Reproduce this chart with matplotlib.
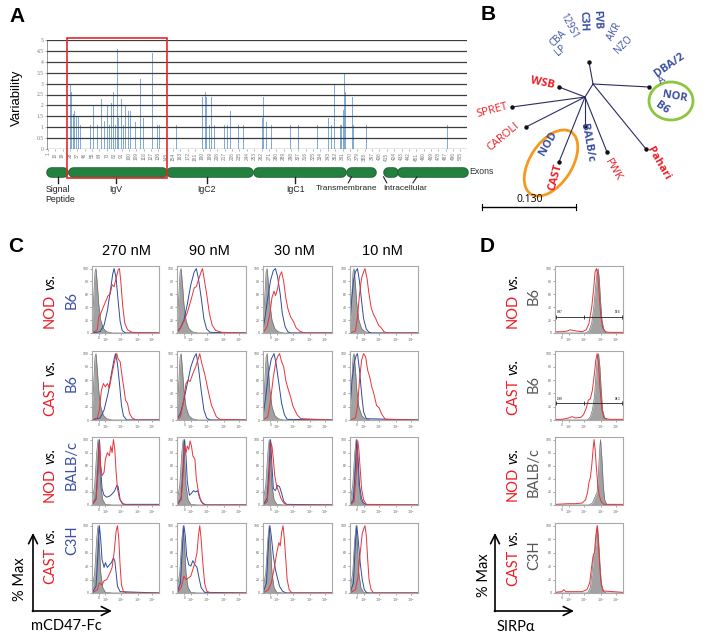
import numpy as np
import matplotlib.pyplot as plt
from matplotlib.patches import Rectangle, Ellipse

# ---------------- data ----------------
# panel A: variability per residue
var_pos = [29, 30, 32, 34, 36, 38, 41, 50, 53, 57, 62, 67, 70, 72, 74, 76, 77, 79, 81, 83,
           84, 86, 87, 91, 93, 96, 100, 102, 108, 110, 114, 118, 121, 127, 129, 132, 135, 137,
           143, 158, 190, 194, 195, 198, 201, 205, 217, 220, 224, 226, 234, 240, 248, 263, 264,
           268, 274, 276, 297, 303, 307, 330, 344, 347, 351, 358, 360, 362, 363, 365, 373, 374,
           390, 489]
var_val = [3.0, 2.6, 1.6, 1.75, 1.5, 1.5, 1.1, 1.1, 1.1, 2.0, 1.1, 2.3, 1.3, 1.4, 2.0, 1.1,
           4.15, 2.1, 2.6, 2.85, 1.1, 4.6, 1.4, 2.3, 1.1, 2.0, 1.75, 1.75, 1.25, 1.1, 3.2, 1.4,
           1.1, 2.3, 4.4, 1.4, 1.1, 1.1, 1.1, 1.1, 2.4, 2.6, 2.4, 1.1, 2.4, 1.1, 1.1, 1.1, 1.75,
           1.1, 1.1, 1.1, 2.4, 1.4, 2.4, 1.25, 1.1, 1.1, 1.1, 1.1, 1.1, 1.1, 1.4, 1.1, 3.0, 1.1,
           1.1, 1.8, 3.5, 2.6, 2.4, 1.1, 1.1, 1.1]
res_ticks = list(range(1, 506, 9))
exon_start = [0, 27, 147, 253, 366, 403, 412, 429]
exon_end = [25, 146, 251, 364, 401, 411, 428, 513]
domain_names = ['IgV', 'IgC2', 'IgC1']
domain_pos = [84, 195, 303]

# panel B: tree (node positions in figure pixels)
tree_nodes = {'a': (593, 84), 'b': (585, 97), 'top': (589, 62), 'WSB': (559, 87),
              'SPRET': (512, 107), 'CAROLI': (526, 127), 'CAST': (559, 162),
              'BALB': (585, 126), 'PWK': (607, 152), 'Pahari': (646, 149), 'DBA': (649, 87)}
tree_edges = [('a', 'top'), ('a', 'DBA'), ('a', 'Pahari'), ('a', 'b'), ('b', 'WSB'),
              ('b', 'SPRET'), ('b', 'CAROLI'), ('b', 'CAST'), ('b', 'BALB'), ('b', 'PWK')]
# label, x, y, rotation, colour key, bold, size
strain_labels = [('WSB', 542, 83, -12, 'r', True, 8), ('SPRET', 492, 110, 15, 'r', False, 8),
                 ('CAROLI', 503, 137, 40, 'r', False, 8), ('NOD', 548, 143, 60, 'b', True, 8),
                 ('CAST', 556, 177, 75, 'r', True, 8), ('BALB/c', 587, 143, -80, 'b', True, 8),
                 ('PWK', 613, 170, -60, 'r', False, 8), ('Pahari', 658, 163, -60, 'r', True, 8),
                 ('DBA/2', 670, 65, 35, 'b', True, 8), ('A', 662, 80, 35, 'b', False, 7),
                 ('NOR', 675, 97, -10, 'b', True, 8), ('B6', 662, 108, -35, 'b', True, 8),
                 ('LP', 561, 51, 40, 'b', False, 7), ('CBA', 558, 39, 45, 'b', False, 7),
                 ('129S1', 569, 26, -62, 'b', False, 7), ('C3H', 583, 21, -88, 'b', True, 7.5),
                 ('FVB', 597, 20, -88, 'b', True, 7.5), ('AKR', 614, 32, 60, 'b', False, 7),
                 ('NZO', 624, 45, 45, 'b', False, 7)]

# panel C/D: histograms (x = display fraction of axis, y = % max)
concs = ['270 nM', '90 nM', '30 nM', '10 nM']
first_strain = ['NOD', 'CAST', 'NOD', 'CAST']
second_strain = ['B6', 'B6', 'BALB/c', 'C3H']

iso_c_wide = [(0, 8), (0.02, 45), (0.045, 95), (0.06, 100), (0.08, 75), (0.1, 45), (0.13, 20),
              (0.17, 7), (0.22, 2), (0.3, 0), (1, 0)]
iso_c_narrow = [(0, 5), (0.04, 30), (0.07, 80), (0.09, 100), (0.11, 70), (0.13, 30), (0.16, 8),
                (0.2, 1), (0.3, 0), (1, 0)]

blue_nod_b6 = [
    [(0, 0), (0.12, 2), (0.18, 12), (0.23, 35), (0.28, 70), (0.31, 92), (0.33, 100), (0.36, 85),
     (0.39, 50), (0.42, 18), (0.45, 4), (0.5, 0), (1, 0)],
    [(0, 2), (0.05, 8), (0.1, 20), (0.15, 45), (0.2, 75), (0.25, 95), (0.28, 100), (0.31, 85),
     (0.35, 55), (0.39, 22), (0.43, 6), (0.48, 1), (1, 0)],
    [(0, 5), (0.03, 25), (0.07, 55), (0.11, 82), (0.15, 97), (0.18, 100), (0.21, 88), (0.25, 60),
     (0.28, 30), (0.32, 10), (0.36, 2), (0.4, 0), (1, 0)],
    [(0, 10), (0.02, 45), (0.05, 80), (0.08, 95), (0.11, 100), (0.14, 80), (0.17, 50), (0.2, 22),
     (0.24, 6), (0.28, 1), (0.32, 0), (1, 0)]]
red_nod_b6 = [
    [(0, 0), (0.08, 5), (0.1, 25), (0.13, 30), (0.16, 38), (0.2, 48), (0.24, 58), (0.27, 60),
     (0.3, 75), (0.33, 72), (0.36, 85), (0.39, 98), (0.41, 100), (0.43, 80), (0.46, 40),
     (0.49, 15), (0.53, 5), (0.6, 1), (1, 0)],
    [(0, 0), (0.05, 8), (0.1, 18), (0.15, 32), (0.2, 50), (0.25, 70), (0.28, 72), (0.31, 82),
     (0.35, 95), (0.37, 100), (0.4, 80), (0.43, 60), (0.47, 30), (0.51, 12), (0.56, 4),
     (0.65, 1), (1, 0)],
    [(0, 0), (0.06, 10), (0.1, 30), (0.13, 55), (0.16, 65), (0.18, 58), (0.21, 68), (0.24, 88),
     (0.27, 95), (0.3, 80), (0.33, 55), (0.36, 38), (0.4, 25), (0.44, 18), (0.48, 8),
     (0.53, 3), (0.6, 0), (1, 0)],
    [(0, 0), (0.08, 3), (0.11, 25), (0.14, 60), (0.17, 85), (0.2, 95), (0.22, 100), (0.25, 85),
     (0.28, 60), (0.31, 40), (0.34, 30), (0.38, 22), (0.42, 12), (0.46, 8), (0.5, 2),
     (0.55, 0), (1, 0)]]
blue_cast_b6 = [
    [(0, 0), (0.12, 3), (0.18, 15), (0.24, 40), (0.29, 70), (0.33, 92), (0.35, 100), (0.38, 85),
     (0.41, 55), (0.44, 22), (0.47, 6), (0.52, 0), (1, 0)],
    [(0, 2), (0.05, 10), (0.1, 30), (0.15, 55), (0.2, 80), (0.25, 95), (0.28, 100), (0.31, 80),
     (0.35, 45), (0.39, 15), (0.43, 3), (0.48, 0), (1, 0)],
    [(0, 5), (0.04, 35), (0.08, 70), (0.12, 92), (0.16, 100), (0.19, 85), (0.23, 55), (0.27, 25),
     (0.31, 8), (0.35, 1), (1, 0)],
    [(0, 15), (0.03, 60), (0.06, 85), (0.09, 97), (0.11, 100), (0.14, 75), (0.17, 40),
     (0.2, 12), (0.24, 2), (1, 0)]]
red_cast_b6 = [
    [(0, 0), (0.08, 3), (0.11, 15), (0.14, 45), (0.17, 55), (0.2, 50), (0.23, 55), (0.26, 48),
     (0.29, 65), (0.32, 80), (0.35, 95), (0.37, 100), (0.39, 92), (0.42, 88), (0.45, 65),
     (0.48, 45), (0.5, 30), (0.53, 25), (0.56, 10), (0.6, 3), (0.66, 0), (1, 0)],
    [(0, 0), (0.05, 5), (0.09, 25), (0.13, 55), (0.16, 60), (0.19, 58), (0.23, 70), (0.27, 80),
     (0.3, 90), (0.33, 100), (0.36, 85), (0.4, 70), (0.43, 55), (0.46, 40), (0.5, 22),
     (0.53, 15), (0.57, 5), (0.62, 1), (1, 0)],
    [(0, 0), (0.07, 5), (0.11, 30), (0.15, 65), (0.19, 90), (0.22, 97), (0.24, 100), (0.27, 88),
     (0.3, 80), (0.33, 60), (0.36, 48), (0.4, 35), (0.43, 22), (0.46, 15), (0.5, 7),
     (0.55, 2), (1, 0)],
    [(0, 0), (0.08, 3), (0.11, 20), (0.14, 60), (0.17, 90), (0.2, 100), (0.23, 95), (0.26, 75),
     (0.29, 65), (0.32, 50), (0.35, 40), (0.39, 22), (0.43, 18), (0.47, 8), (0.52, 1), (1, 0)]]
blue_nod_balbc = [
    [(0, 0), (0.06, 10), (0.09, 60), (0.11, 100), (0.13, 55), (0.15, 25), (0.18, 15), (0.22, 12),
     (0.27, 14), (0.31, 18), (0.34, 22), (0.37, 30), (0.39, 28), (0.42, 8), (0.46, 2),
     (0.5, 1), (1, 1)],
    [(0, 0), (0.06, 10), (0.09, 60), (0.11, 100), (0.13, 75), (0.15, 35), (0.18, 15), (0.21, 18),
     (0.24, 22), (0.27, 20), (0.3, 22), (0.33, 10), (0.37, 3), (0.42, 0), (1, 0)],
    [(0, 0), (0.06, 10), (0.09, 60), (0.11, 100), (0.13, 60), (0.15, 25), (0.18, 22), (0.21, 30),
     (0.24, 28), (0.27, 18), (0.3, 6), (0.34, 1), (1, 0)],
    [(0, 0), (0.05, 8), (0.08, 60), (0.1, 100), (0.12, 70), (0.14, 30), (0.17, 10), (0.2, 3),
     (0.25, 0), (1, 0)]]
red_nod_balbc = [
    [(0, 0), (0.06, 8), (0.09, 50), (0.115, 95), (0.13, 60), (0.15, 45), (0.18, 50), (0.2, 70),
     (0.23, 80), (0.26, 75), (0.28, 90), (0.3, 80), (0.32, 100), (0.34, 85), (0.36, 50),
     (0.38, 25), (0.41, 10), (0.45, 2), (0.5, 0), (1, 0)],
    [(0, 0), (0.06, 8), (0.09, 50), (0.11, 92), (0.13, 80), (0.15, 90), (0.17, 85), (0.19, 98),
     (0.21, 90), (0.23, 75), (0.26, 70), (0.28, 40), (0.31, 20), (0.35, 5), (0.4, 0), (1, 0)],
    [(0, 0), (0.06, 5), (0.09, 40), (0.115, 95), (0.13, 90), (0.15, 70), (0.17, 45), (0.2, 28),
     (0.23, 20), (0.26, 10), (0.3, 3), (0.35, 0), (1, 0)],
    [(0, 0), (0.06, 5), (0.09, 45), (0.115, 98), (0.13, 85), (0.15, 55), (0.17, 25), (0.2, 8),
     (0.24, 1), (1, 0)]]
blue_cast_c3h = [
    [(0, 0), (0.06, 10), (0.09, 60), (0.11, 100), (0.13, 80), (0.15, 50), (0.18, 38), (0.2, 45),
     (0.23, 38), (0.26, 42), (0.29, 45), (0.32, 52), (0.34, 48), (0.36, 30), (0.38, 10),
     (0.42, 2), (1, 0)],
    [(0, 0), (0.05, 15), (0.08, 70), (0.1, 100), (0.12, 85), (0.14, 55), (0.17, 42), (0.2, 40),
     (0.23, 48), (0.26, 42), (0.29, 38), (0.32, 22), (0.35, 8), (0.4, 1), (1, 0)],
    [(0, 0), (0.05, 15), (0.08, 75), (0.1, 100), (0.12, 85), (0.15, 55), (0.18, 35), (0.21, 22),
     (0.24, 10), (0.28, 3), (0.33, 0), (1, 0)],
    [(0, 0), (0.05, 15), (0.08, 75), (0.1, 100), (0.12, 80), (0.15, 45), (0.18, 20), (0.21, 5),
     (0.25, 0), (1, 0)]]
red_cast_c3h = [
    [(0, 0), (0.08, 5), (0.11, 15), (0.15, 12), (0.18, 18), (0.22, 20), (0.26, 28), (0.3, 38),
     (0.33, 60), (0.36, 92), (0.38, 100), (0.4, 80), (0.42, 40), (0.44, 12), (0.47, 2),
     (0.52, 0), (1, 0)],
    [(0, 0), (0.06, 8), (0.1, 25), (0.13, 20), (0.16, 22), (0.2, 25), (0.23, 35), (0.26, 45),
     (0.29, 60), (0.31, 85), (0.33, 100), (0.35, 80), (0.37, 50), (0.4, 15), (0.43, 3),
     (0.48, 0), (1, 0)],
    [(0, 0), (0.08, 5), (0.12, 15), (0.16, 35), (0.2, 60), (0.23, 75), (0.25, 70), (0.27, 90),
     (0.29, 100), (0.31, 80), (0.33, 50), (0.35, 20), (0.38, 5), (0.42, 0), (1, 0)],
    [(0, 0), (0.08, 5), (0.12, 25), (0.15, 60), (0.18, 88), (0.2, 95), (0.22, 100), (0.24, 85),
     (0.26, 50), (0.28, 20), (0.31, 5), (0.35, 0), (1, 0)]]

c_blue = [blue_nod_b6, blue_cast_b6, blue_nod_balbc, blue_cast_c3h]
c_red = [red_nod_b6, red_cast_b6, red_nod_balbc, red_cast_c3h]
c_iso = [iso_c_wide, iso_c_wide, iso_c_narrow, iso_c_narrow]

d_grey = [
    [(0, 0), (0.45, 0), (0.5, 3), (0.54, 15), (0.57, 40), (0.6, 75), (0.62, 95), (0.635, 100),
     (0.65, 85), (0.67, 50), (0.69, 20), (0.72, 5), (0.76, 0), (1, 0)],
    [(0, 0), (0.48, 0), (0.52, 5), (0.55, 15), (0.58, 35), (0.6, 65), (0.62, 90), (0.64, 100),
     (0.66, 80), (0.68, 45), (0.7, 15), (0.73, 3), (0.77, 0), (1, 0)],
    [(0, 0), (0.5, 0), (0.55, 3), (0.58, 10), (0.6, 15), (0.62, 20), (0.64, 50), (0.66, 90),
     (0.67, 100), (0.69, 70), (0.71, 30), (0.73, 8), (0.76, 1), (1, 0)],
    [(0, 0), (0.48, 0), (0.52, 8), (0.55, 35), (0.57, 58), (0.59, 62), (0.61, 85), (0.625, 100),
     (0.64, 80), (0.66, 45), (0.68, 15), (0.71, 3), (0.75, 0), (1, 0)]]
d_red = [
    [(0, 2), (0.1, 2), (0.18, 3), (0.22, 5), (0.27, 4), (0.32, 3), (0.4, 2), (0.46, 5), (0.5, 15),
     (0.54, 40), (0.57, 70), (0.59, 95), (0.61, 100), (0.63, 90), (0.65, 60), (0.67, 30),
     (0.7, 8), (0.74, 2), (0.8, 1), (1, 1)],
    [(0, 1), (0.1, 1), (0.2, 3), (0.25, 5), (0.3, 3), (0.38, 4), (0.42, 8), (0.46, 18),
     (0.49, 30), (0.52, 32), (0.55, 45), (0.58, 70), (0.6, 90), (0.62, 100), (0.64, 85),
     (0.66, 50), (0.69, 15), (0.72, 3), (0.8, 1), (1, 1)],
    [(0, 1), (0.2, 2), (0.3, 2), (0.4, 3), (0.45, 8), (0.48, 20), (0.5, 35), (0.52, 42),
     (0.54, 60), (0.56, 85), (0.575, 100), (0.59, 85), (0.61, 55), (0.63, 30), (0.65, 15),
     (0.68, 5), (0.72, 1), (1, 1)],
    [(0, 1), (0.1, 2), (0.13, 5), (0.16, 2), (0.25, 2), (0.4, 2), (0.47, 5), (0.51, 15),
     (0.54, 40), (0.56, 55), (0.58, 60), (0.6, 85), (0.62, 100), (0.64, 70), (0.66, 35),
     (0.68, 12), (0.71, 3), (1, 1)]]
gate_split = 0.42
gate_pct = [['0.87', '99.6'], ['1.89', '98.1']]

# ---------------- figure ----------------
W, H = 711, 639
plt.rcParams['font.family'] = ['Liberation Sans', 'DejaVu Sans']
fig = plt.figure(figsize=(W / 100, H / 100), dpi=100)

RED = '#ec1c24'
BLUE = '#3a4ea3'
CAL = ['Lato', 'DejaVu Sans']


def px_axes(x0, y0, x1, y1):
    return fig.add_axes([x0 / W, 1 - y1 / H, (x1 - x0) / W, (y1 - y0) / H])


ov = fig.add_axes([0, 0, 1, 1], zorder=10)
ov.set_xlim(0, W)
ov.set_ylim(H, 0)
ov.axis('off')

for lab, x, y in [('A', 17, 17), ('B', 488, 15), ('C', 16, 247), ('D', 487, 247)]:
    ov.text(x, y, lab, fontsize=15, fontweight='bold', ha='center', va='center')

# ---- panel A ----
axA = px_axes(47, 40, 467, 149)
axA.bar(var_pos, var_val, width=1.0, color='#82abd9', linewidth=0, zorder=2)
for v in np.arange(0, 5.01, 0.5):
    axA.axhline(v, color='#3c3c3c', lw=0.9, zorder=3)
axA.set_xlim(0, 513)
axA.set_ylim(0, 5)
for s in ['top', 'right', 'bottom']:
    axA.spines[s].set_visible(False)
axA.spines['left'].set_color('#888888')
axA.spines['left'].set_linewidth(0.6)
yt = np.arange(0, 5.01, 0.5)
axA.set_yticks(yt)
axA.set_yticklabels(['%g' % v for v in yt], fontsize=4, color='#555555', family='Liberation Serif')
axA.set_xticks(res_ticks)
axA.set_xticklabels([str(r) for r in res_ticks], rotation=90, fontsize=3.4, color='#555555')
axA.tick_params(length=1.5, width=0.4, pad=1, colors='#777777')
ov.text(17, 98, 'Variability', rotation=90, ha='center', va='center', fontsize=9.5)
ov.add_patch(Rectangle((67, 38), 100, 140, fill=False, ec='#e8262c', lw=1.2))

axE = px_axes(47, 166, 467, 178)
axE.set_xlim(0, 513)
axE.set_ylim(0, 1)
axE.axis('off')
for s, e in zip(exon_start, exon_end):
    a = s + 5
    b = max(e - 5, a + 0.5)
    axE.plot([a, b], [0.5, 0.5], color='#1c5e30', lw=7.6, solid_capstyle='round', clip_on=False)
    axE.plot([a, b], [0.5, 0.5], color='#24803f', lw=6.4, solid_capstyle='round', clip_on=False)
for name, p in zip(domain_names, domain_pos):
    axE.plot([p, p], [0.1, -0.4], color='#222222', lw=1.0, clip_on=False)
    axE.text(p, -0.55, name, ha='center', va='top', fontsize=6.3, color='#222222')
axE.plot([13, 13], [0.1, -0.4], color='#222222', lw=1.0, clip_on=False)
axE.text(-2, -0.55, 'Signal\nPeptide', ha='left', va='top', fontsize=6.3, color='#222222',
         linespacing=1.2)
axE.plot([372, 368], [0.1, -0.4], color='#222222', lw=0.8, clip_on=False)
axE.text(366, -0.55, 'Transmembrane', ha='center', va='top', fontsize=6.0, color='#222222')
axE.plot([411, 415], [0.1, -0.4], color='#222222', lw=0.8, clip_on=False)
axE.plot([452, 447], [0.1, -0.4], color='#222222', lw=0.8, clip_on=False)
axE.text(437, -0.55, 'Intracellular', ha='center', va='top', fontsize=6.0, color='#222222')
axE.text(516, 0.5, 'Exons', ha='left', va='center', fontsize=6.3, color='#333333')

# ---- panel B ----
for u, v in tree_edges:
    (x0, y0), (x1, y1) = tree_nodes[u], tree_nodes[v]
    ov.plot([x0, x1], [y0, y1], color='#2b2b66', lw=0.8)
for k, (x, y) in tree_nodes.items():
    if k not in ('a', 'b'):
        ov.plot(x, y, 'o', color='#111111', ms=2.2)
for lab, x, y, rot, ck, bold, size in strain_labels:
    ov.text(x, y, lab, rotation=rot, ha='center', va='center', rotation_mode='anchor',
            color=RED if ck == 'r' else BLUE, fontsize=size,
            fontweight='bold' if bold else 'normal', family=['Open Sans', 'DejaVu Sans'])
ov.add_patch(Ellipse((551, 163), 42, 74, angle=33, fill=False, ec='#f39a1f', lw=2))
ov.add_patch(Ellipse((671, 101), 44, 38, angle=0, fill=False, ec='#8cc540', lw=2))
ov.plot([482, 576], [207, 207], color='black', lw=1)
ov.plot([482, 482], [204, 210], color='black', lw=0.8)
ov.plot([576, 576], [204, 210], color='black', lw=0.8)
ov.text(530, 200, '0.130', ha='center', va='center', fontsize=7.5, family=['Open Sans', 'DejaVu Sans'])


# ---- panels C and D ----
def style_hist(ax):
    ax.set_xlim(0, 1)
    ax.set_ylim(0, 104)
    for s in ax.spines.values():
        s.set_color('#a9a9a9')
        s.set_linewidth(0.8)
    ax.set_yticks([0, 20, 40, 60, 80, 100])
    ax.set_yticklabels(['0', '20', '40', '60', '80', '100'], fontsize=2.5, color='#555555')
    ax.set_xticks([0.107, 0.2, 0.43, 0.68, 0.9])
    ax.set_xticklabels(['0', '$10^2$', '$10^3$', '$10^4$', '$10^5$'], fontsize=2.5, color='#555555')
    ax.tick_params(length=1.2, width=0.4, pad=1, colors='#666666')


def grey_fill(ax, pts):
    x, y = zip(*pts)
    ax.fill_between(x, y, color='#a2a2a2', lw=0)
    ax.plot(x, y, color='#707070', lw=0.5)


col_x = [(92, 159), (177, 246), (263, 332), (350, 418)]
row_y = [(266, 333), (351, 420), (437, 505), (523, 593)]
d_x = (555, 623)

for i, (y0, y1) in enumerate(row_y):
    for j, (x0, x1) in enumerate(col_x):
        ax = px_axes(x0, y0, x1, y1)
        style_hist(ax)
        grey_fill(ax, c_iso[i])
        ax.plot(*zip(*c_blue[i][j]), color='#2e4c9e', lw=0.7)
        ax.plot(*zip(*c_red[i][j]), color='#e8333b', lw=0.7)
    axd = px_axes(d_x[0], y0, d_x[1], y1)
    style_hist(axd)
    grey_fill(axd, d_grey[i])
    axd.plot(*zip(*d_red[i]), color='#e8333b', lw=0.7)
    if i < len(gate_pct):
        axd.plot([0.015, gate_split, 0.99], [25, 25, 25], color='#222222', lw=0.6,
                 marker='|', ms=3, mew=0.6)
        axd.text(0.03, 29, gate_pct[i][0], fontsize=2.2, ha='left', va='bottom')
        axd.text(0.97, 29, gate_pct[i][1], fontsize=2.2, ha='right', va='bottom')

for x, c in zip([126, 209, 294, 382], concs):
    ov.text(x, 251, c, ha='center', va='center', fontsize=10.5)

renderer = fig.canvas.get_renderer()


def stacked_label(x, yc, parts, size=10.5):
    texts = []
    for s, color, style in parts:
        t = ov.text(0, 0, s, rotation=90, rotation_mode='anchor', ha='left', va='center',
                    color=color, fontsize=size, style=style, family=CAL)
        texts.append((t, t.get_window_extent(renderer).height))
    gap = 3
    total = sum(h for _, h in texts) + gap * (len(texts) - 1)
    y = yc + total / 2
    for t, h in texts:
        t.set_position((x, y))
        y -= h + gap


line1_c = [301, 388, 475, 556]
line2_c = [300, 383, 465, 540]
line1_d = [301, 387, 474, 558]
line2_d = [296, 384, 472, 555]
for i in range(4):
    stacked_label(50, line1_c[i], [(first_strain[i], RED, 'normal'), ('vs.', 'black', 'italic')])
    ov.text(72, line2_c[i], second_strain[i], rotation=90, ha='center', va='center',
            color=BLUE, fontsize=10.5, family=CAL)
    stacked_label(513, line1_d[i], [(first_strain[i], RED, 'normal'), ('vs.', 'black', 'italic')])
    ov.text(534, line2_d[i], second_strain[i], rotation=90, ha='center', va='center',
            color='#555555', fontsize=10.5, family=CAL)

arrow = dict(arrowstyle='->', lw=1.2, color='black', mutation_scale=16, shrinkA=0, shrinkB=0)
ov.annotate('', xy=(33, 533), xytext=(33, 611.5), arrowprops=arrow)
ov.annotate('', xy=(112, 611), xytext=(32.4, 611), arrowprops=arrow)
ov.text(20, 579, '% Max', rotation=90, ha='center', va='center', fontsize=10.5, family=CAL)
ov.text(31, 626, 'mCD47-Fc', ha='left', va='center', fontsize=10.5, family=CAL)
ov.annotate('', xy=(495, 533), xytext=(495, 611.5), arrowprops=arrow)
ov.annotate('', xy=(574, 611), xytext=(494.4, 611), arrowprops=arrow)
ov.text(484, 575, '% Max', rotation=90, ha='center', va='center', fontsize=10.5, family=CAL)
ov.text(497, 627, 'SIRP\u03b1', ha='left', va='center', fontsize=10.5, family=CAL)

fig.savefig('out.png', dpi=100)
